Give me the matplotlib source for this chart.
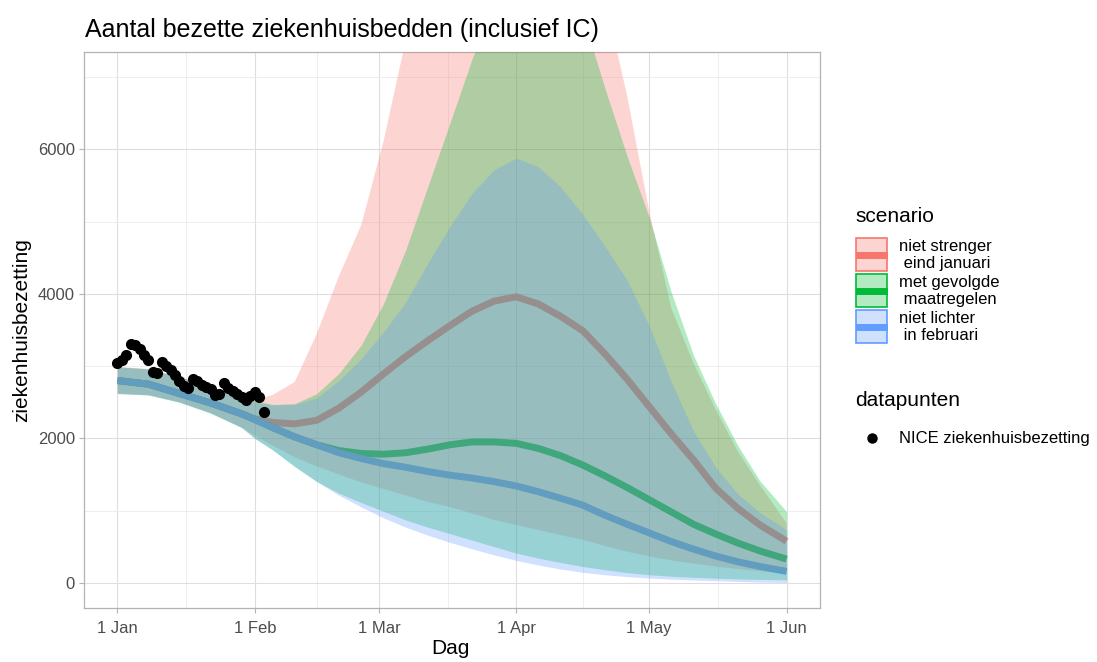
import numpy as np
import matplotlib.pyplot as plt
from matplotlib.patches import Rectangle
from matplotlib.lines import Line2D

plt.rcParams["font.family"] = ["Liberation Sans", "DejaVu Sans"]

W, H = 1097, 662

start = np.datetime64("2021-01-01")

# model output, day offsets from 1 Jan
days = [0, 7, 14, 21, 28, 31, 35, 40, 45, 50, 55, 60, 65, 70, 75, 80, 85, 90,
        95, 100, 105, 110, 115, 120, 125, 130, 135, 140, 145, 151]

red_mid = [2800, 2750, 2620, 2490, 2340, 2270, 2220, 2200, 2250, 2420, 2640,
           2890, 3130, 3350, 3560, 3760, 3900, 3960, 3860, 3690, 3490, 3170,
           2820, 2440, 2060, 1700, 1310, 1030, 800, 575]
red_lo = [2620, 2600, 2500, 2350, 2150, 2040, 1900, 1740, 1610, 1500, 1390,
          1300, 1210, 1120, 1050, 960, 870, 800, 730, 660, 594, 510, 430, 364,
          310, 265, 225, 190, 160, 134]
red_hi = [2990, 2960, 2850, 2720, 2570, 2530, 2600, 2780, 3450, 4250, 4950,
          6100, 7500, 8800, 9800, 10500, 10900, 11000, 10800, 10200, 9300,
          8100, 6750, 5150, 3800, 3040, 2400, 1820, 1350, 825]

green_mid = [2800, 2750, 2620, 2490, 2340, 2260, 2150, 2020, 1910, 1830, 1790,
             1780, 1800, 1850, 1910, 1950, 1950, 1930, 1860, 1760, 1630, 1480,
             1320, 1150, 980, 810, 675, 550, 440, 327]
green_lo = [2620, 2600, 2500, 2350, 2150, 2000, 1840, 1610, 1400, 1240, 1110,
            990, 870, 770, 680, 590, 500, 410, 340, 280, 225, 180, 140, 111,
            90, 75, 62, 53, 46, 41]
green_hi = [2990, 2960, 2850, 2720, 2570, 2520, 2470, 2480, 2620, 2900, 3290,
            3860, 4600, 5480, 6360, 7250, 8000, 8500, 8700, 8500, 7850, 6850,
            5910, 5060, 4020, 3150, 2480, 1900, 1410, 985]

blue_mid = [2800, 2750, 2620, 2490, 2340, 2260, 2150, 2020, 1910, 1800, 1720,
            1650, 1600, 1540, 1490, 1450, 1400, 1340, 1260, 1170, 1075, 935,
            810, 690, 570, 465, 370, 290, 225, 157]
blue_lo = [2620, 2600, 2500, 2350, 2150, 2000, 1840, 1610, 1400, 1210, 1050,
           900, 770, 660, 560, 470, 385, 310, 245, 190, 145, 110, 85, 65, 50,
           38, 28, 18, 10, 4]
blue_hi = [2990, 2960, 2850, 2720, 2570, 2500, 2460, 2470, 2560, 2800, 3100,
           3470, 3880, 4420, 4930, 5390, 5720, 5880, 5760, 5480, 5100, 4660,
           4190, 3560, 2780, 2100, 1600, 1230, 970, 733]

# NICE data, one value per day from 1 Jan
nice = [3045, 3090, 3150, 3300, 3290, 3230, 3160, 3090, 2920, 2910, 3050,
        3000, 2950, 2880, 2800, 2720, 2690, 2820, 2790, 2740, 2710, 2680,
        2600, 2620, 2760, 2700, 2650, 2620, 2570, 2530, 2580, 2640, 2570, 2370]

tick_dates = ["2021-01-01", "2021-02-01", "2021-03-01", "2021-04-01",
              "2021-05-01", "2021-06-01"]
tick_labels = ["1 Jan", "1 Feb", "1 Mar", "1 Apr", "1 May", "1 Jun"]
y_ticks = [0, 2000, 4000, 6000]

scenarios = ["niet strenger\n eind januari", "met gevolgde\n maatregelen",
             "niet lichter\n in februari"]
colors = ["#F8766D", "#00BA38", "#619CFF"]

mids = [red_mid, green_mid, blue_mid]
los = [red_lo, green_lo, blue_lo]
his = [red_hi, green_hi, blue_hi]

x = np.array(days)
xt = (np.array(tick_dates, dtype="datetime64[D]") - start).astype(int)
x_minor = (xt[:-1] + xt[1:]) / 2

fig = plt.figure(figsize=(W / 100, H / 100), dpi=100)
ax = fig.add_axes([84 / W, 1 - 608 / H, (820 - 84) / W, (608 - 52) / H])

# lines first, ribbons over them (as in the original)
for mid, col in zip(mids, colors):
    ax.plot(x, mid, color=col, lw=5, solid_capstyle="butt", zorder=2)
for lo, hi, col in zip(los, his, colors):
    ax.fill_between(x, lo, hi, color=col, alpha=0.3, lw=0, zorder=3)

ax.plot(np.arange(len(nice)), nice, "o", color="black", ms=7, zorder=5)

ax.set_xlim(-7.55, 158.55)
ax.set_ylim(-350, 7350)
ax.set_xticks(xt)
ax.set_xticklabels(tick_labels)
ax.set_xticks(x_minor, minor=True)
ax.set_yticks(y_ticks)
ax.set_yticklabels([str(v) for v in y_ticks])
ax.set_yticks([1000, 3000, 5000, 7000], minor=True)

ax.grid(which="major", color="#DEDEDE", lw=0.8)
ax.grid(which="minor", color="#EBEBEB", lw=0.6)
ax.set_axisbelow(True)
ax.tick_params(which="major", colors="#B3B3B3", length=3.5, width=0.8,
               labelcolor="#4D4D4D", labelsize=12, pad=3)
ax.tick_params(axis="x", which="major", pad=6)
ax.tick_params(which="minor", length=0)
for s in ax.spines.values():
    s.set_color("#B3B3B3")
    s.set_linewidth(0.9)


def fx(px):
    return px / W


def fy(py):
    return 1 - py / H


fig.text(fx(85), fy(30), "Aantal bezette ziekenhuisbedden (inclusief IC)",
         fontsize=18, va="center", ha="left")
fig.text(fx(22), fy(330), "ziekenhuisbezetting", fontsize=15, rotation=90,
         va="center", ha="center")
fig.text(fx(450), fy(648), "Dag", fontsize=15, va="center", ha="center")

# legend: scenario
fig.text(fx(855), fy(217), "scenario", fontsize=15, va="center", ha="left")
box_tops = [238, 274, 310]
for top, col, lab in zip(box_tops, colors, scenarios):
    fig.add_artist(Rectangle((fx(856), fy(top + 33)), 31 / W, 33 / H,
                             transform=fig.transFigure, facecolor=col,
                             alpha=0.3, lw=0))
    fig.add_artist(Rectangle((fx(856), fy(top + 33)), 31 / W, 33 / H,
                             transform=fig.transFigure, facecolor="none",
                             edgecolor=col, lw=1.2))
    fig.add_artist(Line2D([fx(859), fx(884)], [fy(top + 16.5)] * 2,
                          transform=fig.transFigure, color=col, lw=5))
    fig.text(fx(899), fy(top + 17), lab, fontsize=12, va="center",
             ha="left", linespacing=1.2)

# legend: datapunten
fig.text(fx(855), fy(400), "datapunten", fontsize=15, va="center", ha="left")
fig.add_artist(Line2D([fx(872)], [fy(438)], transform=fig.transFigure,
                      marker="o", color="black", ms=6.5, lw=0))
fig.text(fx(899), fy(438), "NICE ziekenhuisbezetting", fontsize=12,
         va="center", ha="left")

fig.savefig("out.png", dpi=100)
